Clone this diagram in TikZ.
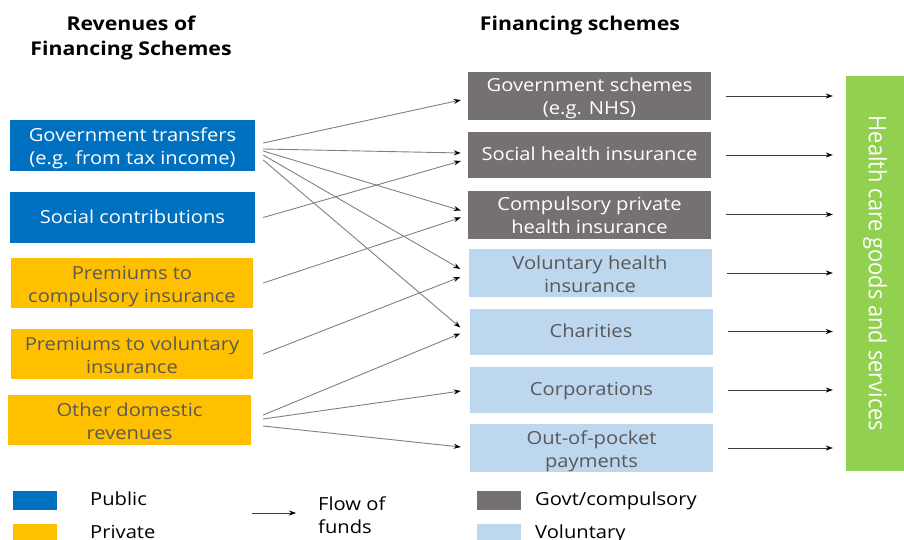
\documentclass[tikz,border=0pt]{standalone}
\usepackage{fontspec}
\setmainfont[FakeStretch=1.12]{Open Sans}
\newfontfamily\hcfont[FakeStretch=0.91]{Open Sans}
\usepackage{tikz}
\usetikzlibrary{arrows.meta}
\definecolor{pub_blue}{RGB}{0,112,192}
\definecolor{priv_yellow}{RGB}{255,192,0}
\definecolor{govt_gray}{RGB}{118,113,113}
\definecolor{vol_blue}{RGB}{189,215,238}
\definecolor{hc_green}{RGB}{146,208,80}
\definecolor{text_gray}{RGB}{89,89,89}
\definecolor{edge_gray}{RGB}{128,128,128}
\definecolor{edge_dark}{RGB}{60,60,60}

\begin{document}
\begin{tikzpicture}[->,x=1pt,y=-1pt,>={Stealth[length=7pt,width=5pt,color=black]}]
    \tikzstyle{one}=[text height=16pt, text depth=5pt]
    \tikzstyle{two}=[text height=43pt, text depth=5pt]
    \tikzstyle{box}=[rectangle, inner sep=0pt, align=center, minimum width=243pt, minimum height=46pt, font=\fontsize{18}{23}\selectfont, one]
    \tikzstyle{pub}=[box, fill=pub_blue, text=white, minimum width=245pt, minimum height=51pt]
    \tikzstyle{priv}=[box, fill=priv_yellow, text=text_gray, minimum width=242pt, minimum height=50pt]
    \tikzstyle{govt}=[box, fill=govt_gray, text=white]
    \tikzstyle{vol}=[box, fill=vol_blue, text=text_gray]
    \tikzstyle{title}=[align=center, inner sep=0pt, font=\bfseries\fontsize{19}{25}\selectfont]
    \tikzstyle{swatch}=[rectangle, inner sep=0pt, minimum width=44pt, minimum height=19pt]
    \tikzstyle{keytext}=[anchor=west, inner sep=0pt, align=left, font=\fontsize{18}{23}\selectfont, one]
    \tikzstyle{flow}=[edge_gray, line width=0.9pt]
    \tikzstyle{out_flow}=[edge_dark, line width=0.8pt, shorten <=15pt, shorten >=13pt]

    \useasboundingbox (0,0) rectangle (904,540);

    % titles
    \node[title] (t1) at (131,38) {Revenues of\\Financing Schemes};
    \node[title] (t2) at (580,26) {Financing schemes};

    % revenues
    \node[pub, two]  (gt) at (132.5,146)   {Government transfers\\(e.g. from tax income)};
    \node[pub]       (sc) at (132.5,217.5) {Social contributions};
    \node[priv, two] (pc) at (132,283)     {Premiums to\\compulsory insurance};
    \node[priv, two] (pv) at (132,354)     {Premiums to voluntary\\insurance};
    \node[priv, two, minimum width=243pt] (od) at (129.5,420) {Other domestic\\revenues};

    % schemes
    \node[govt, two] (gs)  at (589.5,96)    {Government schemes\\(e.g. NHS)};
    \node[govt]      (shi) at (589.5,155)   {Social health insurance};
    \node[govt, two] (cpi) at (589.5,214.5) {Compulsory private\\health insurance};
    \node[vol, two]  (vhi) at (590,273)     {Voluntary health\\insurance};
    \node[vol]       (ch)  at (591,331.5)   {Charities};
    \node[vol]       (co)  at (591.5,390)   {Corporations};
    \node[vol, two]  (oop) at (591.5,448)   {Out-of-pocket\\payments};

    % health care
    \node[fill=hc_green, inner sep=0pt, minimum width=58pt, minimum height=395pt] (hc) at (875,273.5) {};
    \node[rotate=-90, text=white, font=\hcfont\fontsize{24}{24}\selectfont] (hct) at (hc) {Health care goods and services};

    \path[flow]
     ([shift={(8,-3)}]gt.east)  edge ([shift={(-7,4)}]gs.west)
     ([shift={(8,3)}]gt.east)   edge ([shift={(-7,-2)}]shi.west)
     ([shift={(8,5)}]gt.east)   edge ([shift={(-7,-4)}]cpi.west)
     ([shift={(8,9)}]gt.east)   edge ([shift={(-8,-4)}]vhi.west)
     ([shift={(8,14)}]gt.east)  edge ([shift={(-9,-4)}]ch.west)
     ([shift={(8,0)}]sc.east)   edge ([shift={(-7,6)}]shi.west)
     ([shift={(10,0)}]pc.east)  edge ([shift={(-7,3)}]cpi.west)
     ([shift={(10,0)}]pv.east)  edge ([shift={(-8,4)}]vhi.west)
     ([shift={(12,-5)}]od.east) edge ([shift={(-9,2)}]ch.west)
     ([shift={(12,-1)}]od.east) edge ([shift={(-9,1)}]co.west)
     ([shift={(12,6)}]od.east)  edge ([shift={(-9,-1)}]oop.west)
     ;

    \path[out_flow]
     (gs.east)  edge (gs.east -| hc.west)
     (shi.east) edge (shi.east -| hc.west)
     (cpi.east) edge (cpi.east -| hc.west)
     (vhi.east) edge (vhi.east -| hc.west)
     (ch.east)  edge (ch.east -| hc.west)
     (co.east)  edge (co.east -| hc.west)
     (oop.east) edge (oop.east -| hc.west)
     ;

    % legend
    \node[swatch, fill=pub_blue]    (kpub)  at (35,500)  {};
    \node[keytext] (lpub)  at (90,500)  {Public};
    \node[swatch, fill=priv_yellow] (kpriv) at (35,533)  {};
    \node[keytext] (lpriv) at (90,533)  {Private};
    \coordinate (fa) at (252,513);
    \coordinate (fb) at (296,513);
    \path (fa) edge[edge_dark, line width=0.8pt] (fb);
    \node[keytext, two] (lflow) at (318,514) {Flow of\\funds};
    \node[swatch, fill=govt_gray]   (kgovt) at (499,500) {};
    \node[keytext] (lgovt) at (535,500) {Govt/compulsory};
    \node[swatch, fill=vol_blue]    (kvol)  at (499,533) {};
    \node[keytext] (lvol)  at (535,533) {Voluntary};
\end{tikzpicture}
\end{document}
